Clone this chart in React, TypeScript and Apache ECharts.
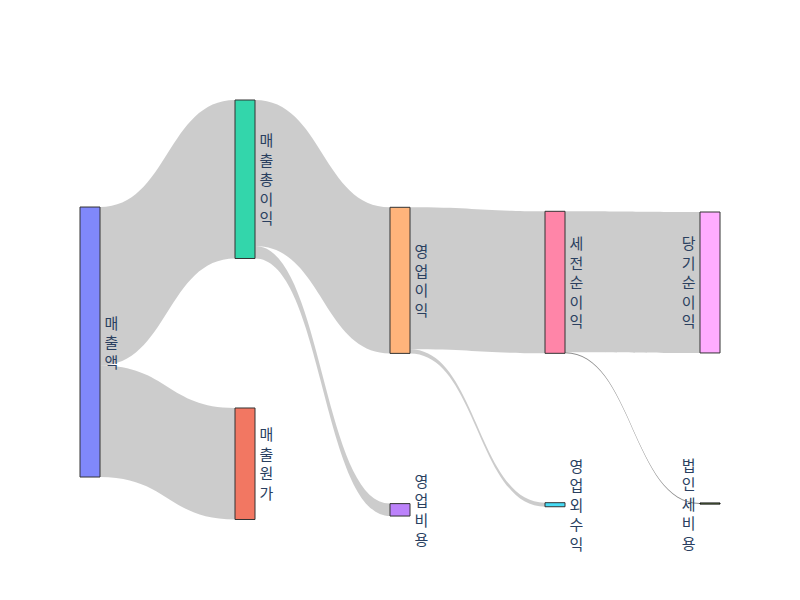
import React, { useEffect, useRef } from "react";
import * as echarts from "echarts";

// Nodes (top-to-bottom order within each column)
const nodeNames = ["매출액", "매출총이익", "매출원가", "영업이익", "영업비용", "세전순이익", "영업외수익", "당기순이익", "법인세비용"];
const nodeColors = ["#8088fb", "#33d6ab", "#f27762", "#ffb47b", "#bc82fb", "#ff85a8", "#47dcf5", "#ffacff", "#c5ed99"];

// Links
const linkSources = ["매출액", "매출액", "매출총이익", "매출총이익", "영업이익", "영업이익", "세전순이익", "세전순이익"];
const linkTargets = ["매출총이익", "매출원가", "영업이익", "영업비용", "세전순이익", "영업외수익", "당기순이익", "법인세비용"];
const linkValues = [587, 413, 541, 46, 526, 15, 522, 4];

// Layout hints (fraction of sankey height), mimicking the reference arrangement
const nodeLayoutY: Record<string, number> = {
  "매출액": 0.2548,
  "매출총이익": 0,
  "매출원가": 0.7333,
  "영업이익": 0.2555,
  "영업비용": 0.961,
  "세전순이익": 0.265,
  "영업외수익": 0.9588,
  "당기순이익": 0.2667,
  "법인세비용": 0.9595,
};
const lastColumn = ["당기순이익", "법인세비용"];

export default function App() {
  const ref = useRef<HTMLDivElement>(null);
  useEffect(() => {
    if (!ref.current) return;
    const chart = echarts.init(ref.current, null, { renderer: "svg" });
    const data = nodeNames.map((name, i) => ({
      name,
      localY: nodeLayoutY[name],
      itemStyle: {
        color: nodeColors[i],
        borderColor: name === "법인세비용" ? "#000" : "#333",
      },
      label: {
        position: lastColumn.includes(name) ? "left" : "right",
      },
    }));
    const links = linkValues.map((v, i) => ({
      source: linkSources[i],
      target: linkTargets[i],
      value: v,
      lineStyle: v < 10 ? { opacity: 0.45 } : undefined,
    }));
    chart.setOption({
      animation: false,
      backgroundColor: "#ffffff",
      series: [
        {
          type: "sankey",
          left: 80,
          right: 80,
          top: 100,
          bottom: 80,
          nodeWidth: 20,
          nodeGap: 150,
          nodeAlign: "left",
          layoutIterations: 0,
          draggable: false,
          emphasis: { disabled: true },
          data,
          links,
          itemStyle: { borderColor: "#333", borderWidth: 1 },
          lineStyle: { color: "#000", opacity: 0.2, curveness: 0.5 },
          label: {
            show: true,
            color: "#2a3f5f",
            fontSize: 15,
            lineHeight: 19.5,
            distance: 4,
            fontFamily: '"Open Sans", "Noto Sans CJK KR", sans-serif',
            formatter: (p: any) => String(p.name).split("").join("\n"),
          },
        },
      ],
    });
    return () => chart.dispose();
  }, []);
  return (
    <div
      ref={ref}
      style={{ position: "fixed", left: 0, top: 0, width: 800, height: 600 }}
    />
  );
}
